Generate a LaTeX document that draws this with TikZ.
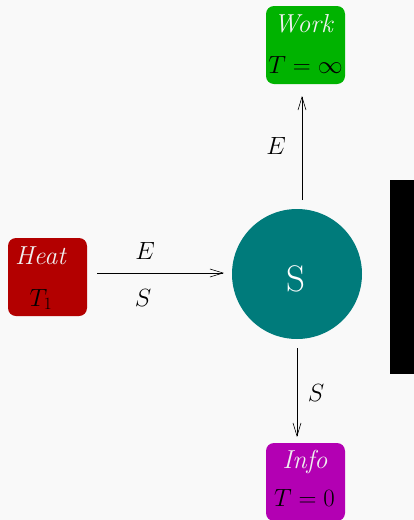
\documentclass[tikz,border=0pt]{standalone}
\usetikzlibrary{arrows.meta,calc}
\definecolor{bg}{HTML}{F9F9F9}
\definecolor{heatc}{HTML}{B30000}
\definecolor{workc}{HTML}{00B300}
\definecolor{infoc}{HTML}{B300B3}
\definecolor{sysc}{HTML}{007B7B}
\definecolor{softwhite}{HTML}{F0F0F0}
\begin{document}
\begin{tikzpicture}[x=1pt,y=-1pt,
  box/.style={rounded corners=8pt,minimum width=79pt,minimum height=78pt,inner sep=0pt,draw=none},
  btxt/.style={anchor=base,inner sep=0pt,font=\fontsize{26}{30}\selectfont},
  lbl/.style={anchor=base,inner sep=0pt,font=\fontsize{25}{30}\selectfont},
  arr/.style={-{Straight Barb[length=13pt,width=8pt]},line width=0.6pt}]
\fill[bg] (0,0) rectangle (414,520);
\useasboundingbox (0,0) rectangle (414,520);
% black bar
\fill[black] (390,180) rectangle (414,374);
% boxes
\node[box,fill=heatc] (heat) at (47.5,277) {};
\node[box,fill=workc] (work) at (305.5,45) {};
\node[box,fill=infoc] (info) at (305.5,482) {};
\node[circle,fill=sysc,minimum size=130pt,inner sep=0pt] (sys) at (297,274) {};
% texts
\node[btxt,text=softwhite] (heatt) at (41,264) {\textit{Heat}};
\node[btxt] (heatT) at (41,306) {$T_1$};
\node[btxt,text=softwhite] (workt) at (304,32) {\textit{Work}};
\node[btxt] (workT) at (305.5,73) {$T=\infty$};
\node[btxt,text=softwhite] (infot) at (305,468) {\textit{Info}};
\node[btxt] (infoT) at (304.5,506) {$T=0$};
\node[anchor=base,inner sep=0pt,text=white,font=\fontsize{37}{40}\selectfont] (syst) at (296,291) {S};
% connectors
\coordinate (hS) at (97,273);
\coordinate (hE) at (224,273);
\coordinate (upS) at (302,200);
\coordinate (upE) at (302,96);
\coordinate (dnS) at (297,348);
\coordinate (dnE) at (297,437);
\draw[arr] (hS) -- (hE);
\draw[arr] (upS) -- (upE);
\draw[arr] (dnS) -- (dnE);
% labels
\node[lbl] (lE1) at (145,259) {$E$};
\node[lbl] (lS1) at (143,306) {$S$};
\node[lbl] (lE2) at (276,154) {$E$};
\node[lbl] (lS2) at (316,401) {$S$};
\end{tikzpicture}
\end{document}
